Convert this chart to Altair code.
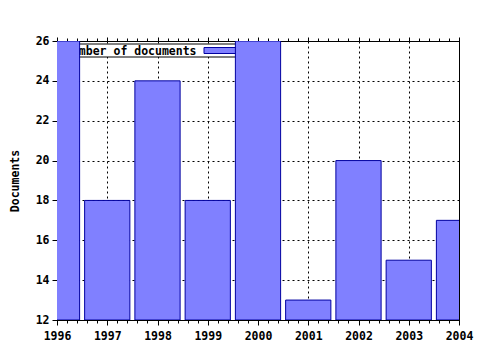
import altair as alt
import pandas as pd

years = [1996, 1997, 1998, 1999, 2000, 2001, 2002, 2003, 2004]
docs = [26, 18, 24, 18, 26, 13, 20, 15, 17]
y_ticks = [12, 14, 16, 18, 20, 22, 24, 26]
minor_x = [round(1996 + i * 0.2, 1) for i in range(41)]
legend_label = "Number of documents"

FONT = "DejaVu Sans Mono"
FS = 11.5
FILL = "#8080ff"
EDGE = "#0000a0"

df = pd.DataFrame({"year": years, "docs": docs})
xs = alt.Scale(domain=[1996, 2004], nice=False, zero=False)
ys = alt.Scale(domain=[12, 26], nice=False, zero=False)

bars = alt.Chart(df).transform_calculate(
    x0="datum.year - 0.45", x1="datum.year + 0.45"
).mark_bar(fill=FILL, stroke=EDGE, strokeWidth=1, clip=True).encode(
    x=alt.X("x0:Q", scale=xs, axis=alt.Axis(
        orient="bottom", values=years, format="d", title=None, labelFlush=False,
        grid=True, gridDash=[2, 3], gridColor="black", gridOpacity=1,
        tickSize=5, labelPadding=5, labelFont=FONT, labelFontWeight="bold",
        labelFontSize=FS, labelColor="black", domainColor="black", tickColor="black")),
    x2="x1:Q",
    y=alt.Y("docs:Q", scale=ys, axis=alt.Axis(
        values=y_ticks, title="Documents", titleFont=FONT, titleFontWeight="bold",
        titleFontSize=FS, titleColor="black", titlePadding=15, labelFlush=False,
        grid=True, gridDash=[2, 3], gridColor="black", gridOpacity=1,
        tickSize=5, labelPadding=3, labelFont=FONT, labelFontWeight="bold",
        labelFontSize=FS, labelColor="black", domainColor="black", tickColor="black")),
    y2=alt.datum(12),
)

def tick_layer(orient, values, size, domain):
    return alt.Chart(df).mark_point(opacity=0).encode(
        x=alt.X("year:Q", scale=xs, axis=alt.Axis(
            orient=orient, values=values, labels=False, title=None, grid=False,
            tickSize=size, domain=domain, domainColor="black", tickColor="black")))

minor_bottom = tick_layer("bottom", minor_x, 3, False)
top_major = tick_layer("top", years, 4, True)
top_minor = tick_layer("top", minor_x, 3, False)

one = alt.Data(values=[{}])
leg_box = alt.Chart(one).mark_rect(fill="white", stroke="black", strokeWidth=1).encode(
    x=alt.value(2), x2=alt.value(186), y=alt.value(3), y2=alt.value(16))
leg_swatch = alt.Chart(one).mark_rect(fill=FILL, stroke=EDGE, strokeWidth=1).encode(
    x=alt.value(147), x2=alt.value(182), y=alt.value(6.5), y2=alt.value(12.5))
leg_text = alt.Chart(one).mark_text(
    text=legend_label, font=FONT, fontWeight="bold", fontSize=FS, align="left",
    baseline="alphabetic", color="black").encode(x=alt.value(8), y=alt.value(14))

chart = alt.layer(
    leg_box, leg_swatch, leg_text, bars, minor_bottom, top_major, top_minor
).resolve_axis(x="independent").properties(
    width=402, height=279,
    autosize=alt.AutoSizeParams(type="none"),
    padding={"left": 57, "top": 41, "right": 21, "bottom": 30},
    background="white",
).configure_view(stroke="black", strokeWidth=1)

chart.save("out.html", embed_options={"renderer": "svg", "actions": False})
